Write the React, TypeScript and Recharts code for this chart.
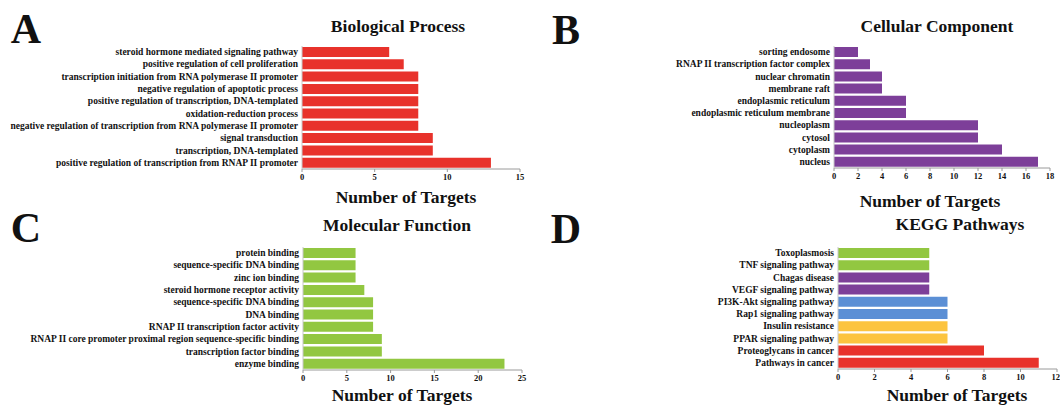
import { Bar, BarChart, Cell, XAxis, YAxis } from "recharts";

const bpCategories = [
  "steroid hormone mediated signaling pathway",
  "positive regulation of cell proliferation",
  "transcription initiation from RNA polymerase II promoter",
  "negative regulation of apoptotic process",
  "positive regulation of transcription, DNA-templated",
  "oxidation-reduction process",
  "negative regulation of transcription from RNA polymerase II promoter",
  "signal transduction",
  "transcription, DNA-templated",
  "positive regulation of transcription from RNAP II promoter",
];
const bpValues = [6, 7, 8, 8, 8, 8, 8, 9, 9, 13];
const bpTicks = [0, 5, 10, 15];

const ccCategories = [
  "sorting endosome",
  "RNAP II transcription factor complex",
  "nuclear chromatin",
  "membrane raft",
  "endoplasmic reticulum",
  "endoplasmic reticulum membrane",
  "nucleoplasm",
  "cytosol",
  "cytoplasm",
  "nucleus",
];
const ccValues = [2, 3, 4, 4, 6, 6, 12, 12, 14, 17];
const ccTicks = [0, 2, 4, 6, 8, 10, 12, 14, 16, 18];

const mfCategories = [
  "protein binding",
  "sequence-specific DNA binding",
  "zinc ion binding",
  "steroid hormone receptor activity",
  "sequence-specific DNA binding",
  "DNA binding",
  "RNAP II transcription factor activity",
  "RNAP II core promoter proximal region sequence-specific binding",
  "transcription factor binding",
  "enzyme binding",
];
const mfValues = [6, 6, 6, 7, 8, 8, 8, 9, 9, 23];
const mfTicks = [0, 5, 10, 15, 20, 25];

const keggCategories = [
  "Toxoplasmosis",
  "TNF signaling pathway",
  "Chagas disease",
  "VEGF signaling pathway",
  "PI3K-Akt signaling pathway",
  "Rap1 signaling pathway",
  "Insulin resistance",
  "PPAR signaling pathway",
  "Proteoglycans in cancer",
  "Pathways in cancer",
];
const keggValues = [5, 5, 5, 5, 6, 6, 6, 6, 8, 11];
const keggTicks = [0, 2, 4, 6, 8, 10, 12];

const RED = "#e8322b";
const PURPLE = "#7d3f99";
const GREEN = "#92c741";
const BLUE = "#5b8fd5";
const YELLOW = "#fcc43f";

const keggColors = [GREEN, GREEN, PURPLE, PURPLE, BLUE, BLUE, YELLOW, YELLOW, RED, RED];

const SERIF = "'Liberation Serif', 'Times New Roman', serif";

function CatTick(props: any) {
  const { x, y, payload } = props;
  return (
    <text
      x={x + 4}
      y={y}
      dy={3}
      textAnchor="end"
      fontFamily={SERIF}
      fontWeight="bold"
      fontSize={9.5}
      fill="#111"
    >
      {payload.value}
    </text>
  );
}

interface PanelProps {
  left: number;
  top: number;
  width: number;
  height: number;
  axisWidth: number;
  margin: { top: number; right: number; bottom: number };
  categories: string[];
  values: number[];
  ticks: number[];
  colors: string[];
}

function Panel({ left, top, width, height, axisWidth, margin, categories, values, ticks, colors }: PanelProps) {
  const data = categories.map((name, i) => ({ name, value: values[i] }));
  return (
    <div style={{ position: "absolute", left, top, width, height }}>
      <BarChart
        width={width}
        height={height}
        data={data}
        layout="vertical"
        margin={{ ...margin, left: 0 }}
        barCategoryGap={1}
        style={{ overflow: "visible" }}
      >
        <XAxis
          type="number"
          domain={[0, ticks[ticks.length - 1]]}
          ticks={ticks}
          height={22}
          tickSize={3}
          axisLine={{ stroke: "#9a9a9a" }}
          tickLine={{ stroke: "#9a9a9a" }}
          tick={{ fill: "#111", fontFamily: SERIF, fontWeight: "bold", fontSize: 8.5 }}
        />
        <YAxis
          type="category"
          dataKey="name"
          width={axisWidth}
          tickLine={false}
          axisLine={{ stroke: "#c8c8c8" }}
          interval={0}
          tick={<CatTick />}
        />
        <Bar dataKey="value" isAnimationActive={false}>
          {data.map((_, i) => (
            <Cell key={i} fill={colors[i]} />
          ))}
        </Bar>
      </BarChart>
    </div>
  );
}

function Label({ x, y, size, children }: { x: number; y: number; size: number; children: string }) {
  return (
    <div
      style={{
        position: "absolute",
        left: x,
        top: y,
        transform: "translate(-50%, -50%)",
        fontFamily: SERIF,
        fontWeight: "bold",
        fontSize: size,
        lineHeight: 1,
        whiteSpace: "nowrap",
        color: "#111",
      }}
    >
      {children}
    </div>
  );
}

export default function App() {
  return (
    <div style={{ position: "absolute", left: 0, top: 0, width: 1060, height: 405, background: "#fff", overflow: "hidden" }}>
      <Panel
        left={0}
        top={0}
        width={530}
        height={200}
        axisWidth={302}
        margin={{ top: 46, right: 10, bottom: 9 }}
        categories={bpCategories}
        values={bpValues}
        ticks={bpTicks}
        colors={bpCategories.map(() => RED)}
      />
      <Panel
        left={530}
        top={0}
        width={530}
        height={200}
        axisWidth={304}
        margin={{ top: 46, right: 10, bottom: 10 }}
        categories={ccCategories}
        values={ccValues}
        ticks={ccTicks}
        colors={ccCategories.map(() => PURPLE)}
      />
      <Panel
        left={0}
        top={200}
        width={530}
        height={205}
        axisWidth={303}
        margin={{ top: 47, right: 8, bottom: 13 }}
        categories={mfCategories}
        values={mfValues}
        ticks={mfTicks}
        colors={mfCategories.map(() => GREEN)}
      />
      <Panel
        left={530}
        top={200}
        width={530}
        height={205}
        axisWidth={308}
        margin={{ top: 47, right: 3, bottom: 14 }}
        categories={keggCategories}
        values={keggValues}
        ticks={keggTicks}
        colors={keggColors}
      />

      <Label x={26} y={29} size={42}>A</Label>
      <Label x={566} y={30} size={42}>B</Label>
      <Label x={26} y={228} size={42}>C</Label>
      <Label x={566} y={229} size={42}>D</Label>

      <Label x={398} y={27} size={17.5}>Biological Process</Label>
      <Label x={937} y={27} size={17.5}>Cellular Component</Label>
      <Label x={397} y={226} size={17.5}>Molecular Function</Label>
      <Label x={960} y={225} size={17.5}>KEGG Pathways</Label>

      <Label x={406} y={198} size={17.5}>Number of Targets</Label>
      <Label x={930} y={202} size={17.5}>Number of Targets</Label>
      <Label x={402} y={396} size={17.5}>Number of Targets</Label>
      <Label x={957} y={396} size={17.5}>Number of Targets</Label>
    </div>
  );
}
